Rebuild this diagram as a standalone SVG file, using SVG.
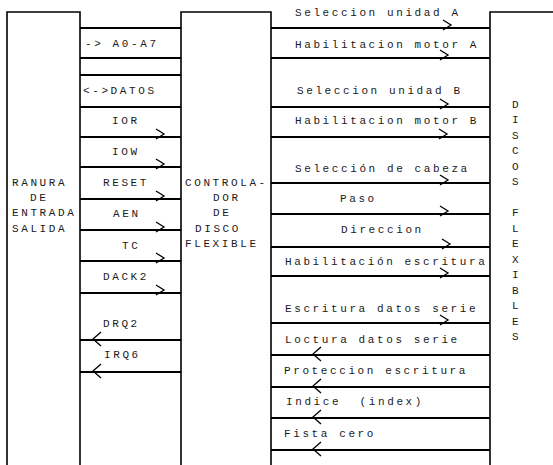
<svg xmlns="http://www.w3.org/2000/svg" width="553" height="465" viewBox="0 0 553 465">
<style>
text{font-family:"Liberation Mono","DejaVu Sans Mono",monospace;font-size:11px;letter-spacing:2.6px;fill:#1a1a1a}
.box{fill:none;stroke:#000;stroke-width:1.6}
.bus{stroke:#000;stroke-width:2;fill:none}
.arr{stroke:#000;stroke-width:1.3;fill:none}
.pre{white-space:pre}
</style>
<defs>
<polyline id="ar" class="arr" points="0,-8 8,-3 0,2"/>
<polyline id="al" class="arr" points="8,-8 0,-1 8,6"/>
</defs>
<rect width="553" height="465" fill="#fff"/>
<g id="ranura">
<path class="box" d="M7,465 V12 H80 V465"/>
<text x="12" y="186">RANURA</text>
<text x="30" y="201">DE</text>
<text x="12" y="216">ENTRADA</text>
<text x="12" y="232">SALIDA</text>
</g>
<g id="controlador">
<path class="box" d="M181,465 V12 H271 V465"/>
<text x="185" y="186">CONTROLA-</text>
<text x="213" y="201">DOR</text>
<text x="213" y="216">DE</text>
<text x="195" y="232">DISCO</text>
<text x="185" y="247">FLEXIBLE</text>
</g>
<g id="discos">
<path class="box" d="M490,465 V12 H553"/>
<text x="512" y="108">D</text>
<text x="512" y="123">I</text>
<text x="512" y="139">S</text>
<text x="512" y="154">C</text>
<text x="512" y="170">O</text>
<text x="512" y="185">S</text>
<text x="512" y="216">F</text>
<text x="512" y="232">L</text>
<text x="512" y="247">E</text>
<text x="512" y="263">X</text>
<text x="512" y="278">I</text>
<text x="512" y="294">B</text>
<text x="512" y="309">L</text>
<text x="512" y="325">E</text>
<text x="512" y="340">S</text>
</g>
<g id="connectors">
<path class="bus" d="M80,28 H181 M80,58 H181 M80,75 H181 M80,107 H181 M80,137 H181 M80,167 H181 M80,199 H181 M80,230 H181 M80,261 H181 M80,293 H181 M80,340 H181 M80,372 H181"/>
<path class="bus" d="M271,28 H490 M271,58 H490 M271,107 H490 M271,137 H490 M271,183 H490 M271,214 H490 M271,247 H490 M271,276 H490 M271,323 H490 M271,355 H490 M271,387 H490 M271,418 H490 M271,450 H490"/>
<use href="#ar" x="156" y="137"/>
<use href="#ar" x="156" y="167"/>
<use href="#ar" x="156" y="199"/>
<use href="#ar" x="156" y="230"/>
<use href="#ar" x="156" y="261"/>
<use href="#ar" x="156" y="293"/>
<use href="#al" x="93" y="340"/>
<use href="#al" x="93" y="372"/>
<use href="#ar" x="443" y="28"/>
<use href="#ar" x="440" y="58"/>
<use href="#ar" x="440" y="107"/>
<use href="#ar" x="439" y="137"/>
<use href="#ar" x="440" y="183"/>
<use href="#ar" x="440" y="214"/>
<use href="#ar" x="442" y="247"/>
<use href="#ar" x="440" y="276"/>
<use href="#ar" x="440" y="323"/>
<use href="#al" x="313" y="355"/>
<use href="#al" x="313" y="387"/>
<use href="#al" x="313" y="418"/>
<use href="#al" x="313" y="450"/>
</g>
<g id="labels">
<text x="85" y="47">-&gt; A0-A7</text>
<text x="83" y="94">&lt;-&gt;DATOS</text>
<text x="112" y="124">IOR</text>
<text x="112" y="155">IOW</text>
<text x="103" y="186">RESET</text>
<text x="113" y="217">AEN</text>
<text x="122" y="249">TC</text>
<text x="103" y="280">DACK2</text>
<text x="103" y="327">DRQ2</text>
<text x="104" y="358">IRQ6</text>
<text x="295" y="16">Seleccion unidad A</text>
<text x="295" y="48">Habilitacion motor A</text>
<text x="297" y="94">Seleccion unidad B</text>
<text x="295" y="124">Habilitacion motor B</text>
<text x="295" y="172">Selección de cabeza</text>
<text x="340" y="202">Paso</text>
<text x="341" y="233">Direccion</text>
<text x="285" y="265">Habilitación escritura</text>
<text x="285" y="312">Escritura datos serie</text>
<text x="285" y="343">Loctura datos serie</text>
<text x="284" y="374">Proteccion escritura</text>
<text class="pre" x="286" y="405">Indice  (index)</text>
<text x="284" y="437">Fista cero</text>
</g>
</svg>
